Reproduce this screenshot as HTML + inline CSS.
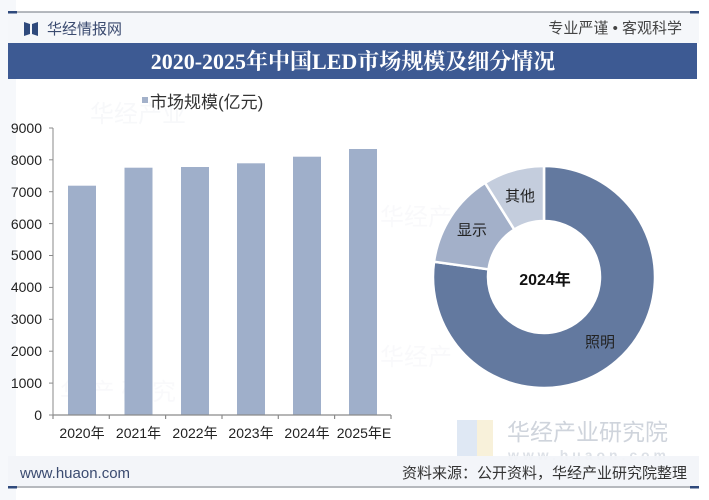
<!DOCTYPE html>
<html><head><meta charset="utf-8"><style>
html,body{margin:0;padding:0;background:#fff;}
svg{display:block;}
text{font-family:"Liberation Sans","Noto Sans CJK SC",sans-serif;}
</style></head><body>
<svg width="709" height="500" viewBox="0 0 709 500" xmlns="http://www.w3.org/2000/svg">
<rect width="709" height="500" fill="#ffffff"/>
<rect x="0" y="0" width="16" height="500" fill="#f6f8fb"/>
<!-- header -->
<rect x="8" y="12" width="691" height="31" fill="#f5f7fa"/>
<line x1="8" y1="12" x2="699" y2="12" stroke="#8a8f98" stroke-width="1.2"/>
<rect x="8" y="11" width="9" height="2.5" fill="#2f4a7c"/>
<rect x="690" y="11" width="9" height="2.5" fill="#2f4a7c"/>
<path d="M24 22 L30 24 L30 34 L24 36 Z" fill="#2f4a7c"/>
<path d="M38 22 L32 24 L32 34 L38 36 Z" fill="#2f4a7c"/>
<text x="47" y="34" font-size="15" fill="#3b4b70">华经情报网</text>
<text x="682" y="33" font-size="15" fill="#444" text-anchor="end">专业严谨 • 客观科学</text>
<!-- title band -->
<rect x="8" y="43" width="689" height="36" fill="#3d5a93"/>
<text x="353" y="69" font-size="22" font-weight="bold" fill="#ffffff" text-anchor="middle" style="font-family:'Liberation Serif','Noto Serif CJK SC',serif;">2020-2025年中国LED市场规模及细分情况</text>
<!-- watermarks -->
<g opacity="0.3">
<text x="90" y="122" font-size="24" fill="#e6e9ef">华经产业</text>
<text x="380" y="225" font-size="24" fill="#eceef3">华经产</text>
<text x="380" y="365" font-size="24" fill="#eceef3">华经产</text>
<text x="60" y="400" font-size="24" fill="#eceef3">华 产 研 究</text>
</g>
<!-- legend -->
<rect x="142" y="97" width="6" height="6" fill="#a3b1ca"/>
<text x="150" y="108" font-size="17" fill="#333">市场规模(亿元)</text>
<!-- y axis -->
<g font-size="14" fill="#222" text-anchor="end">
<text x="42" y="420">0</text>
<text x="42" y="388">1000</text>
<text x="42" y="356">2000</text>
<text x="42" y="324">3000</text>
<text x="42" y="292">4000</text>
<text x="42" y="260">5000</text>
<text x="42" y="229">6000</text>
<text x="42" y="197">7000</text>
<text x="42" y="165">8000</text>
<text x="42" y="133">9000</text>
</g>
<g stroke="#8a8a8a" stroke-width="1">
<line x1="53" y1="128" x2="53" y2="415"/>
<line x1="49" y1="415" x2="53" y2="415"/>
<line x1="49" y1="383.1" x2="53" y2="383.1"/>
<line x1="49" y1="351.2" x2="53" y2="351.2"/>
<line x1="49" y1="319.3" x2="53" y2="319.3"/>
<line x1="49" y1="287.4" x2="53" y2="287.4"/>
<line x1="49" y1="255.5" x2="53" y2="255.5"/>
<line x1="49" y1="223.6" x2="53" y2="223.6"/>
<line x1="49" y1="191.7" x2="53" y2="191.7"/>
<line x1="49" y1="159.8" x2="53" y2="159.8"/>
<line x1="49" y1="128" x2="53" y2="128"/>
</g>
<!-- bars -->
<g fill="#9fafca">
<rect x="68" y="185.7" width="28" height="229.3"/>
<rect x="124.5" y="167.7" width="28" height="247.3"/>
<rect x="181" y="167" width="28" height="248"/>
<rect x="237" y="163.3" width="28" height="251.7"/>
<rect x="293" y="156.7" width="28" height="258.3"/>
<rect x="349" y="149" width="28" height="266"/>
</g>
<g stroke="#8a8a8a" stroke-width="1.2">
<line x1="53" y1="415" x2="391" y2="415"/>
<line x1="53" y1="415" x2="53" y2="419"/>
<line x1="109.3" y1="415" x2="109.3" y2="419"/>
<line x1="165.6" y1="415" x2="165.6" y2="419"/>
<line x1="222" y1="415" x2="222" y2="419"/>
<line x1="278.3" y1="415" x2="278.3" y2="419"/>
<line x1="334.6" y1="415" x2="334.6" y2="419"/>
<line x1="391" y1="415" x2="391" y2="419"/>
</g>
<g font-size="14" fill="#222" text-anchor="middle">
<text x="82" y="438">2020年</text>
<text x="138.5" y="438">2021年</text>
<text x="195" y="438">2022年</text>
<text x="251" y="438">2023年</text>
<text x="307" y="438">2024年</text>
<text x="364" y="438">2025年E</text>
</g>
<!-- donut -->
<g stroke="#ffffff" stroke-width="2.5" stroke-linejoin="miter">
<path d="M544 166 A111 111 0 1 1 434.05 261.74 L488.53 269.32 A56 56 0 1 0 544 221 Z" fill="#63799f"/>
<path d="M434.05 261.74 A111 111 0 0 1 485.08 182.87 L514.27 229.51 A56 56 0 0 0 488.53 269.32 Z" fill="#a3b0c9"/>
<path d="M485.08 182.87 A111 111 0 0 1 544 166 L544 221 A56 56 0 0 0 514.27 229.51 Z" fill="#c4cddd"/>
</g>
<text x="520" y="201" font-size="15" fill="#222" text-anchor="middle">其他</text>
<text x="472" y="235" font-size="15" fill="#222" text-anchor="middle">显示</text>
<text x="600" y="347" font-size="15" fill="#222" text-anchor="middle">照明</text>
<text x="545" y="285" font-size="16" font-weight="bold" fill="#111" text-anchor="middle">2024年</text>
<!-- right watermark -->
<rect x="457" y="420" width="20" height="36" fill="#dfe8f4"/>
<rect x="477" y="420" width="16" height="36" fill="#f8f1da"/>
<text x="507" y="440" font-size="23" fill="#cfd4dc" textLength="161">华经产业研究院</text>
<text x="508" y="460" font-size="14" font-weight="bold" fill="#dde1e7" textLength="158">www.huaon.com</text>
<!-- footer -->
<rect x="8" y="456" width="691" height="30" fill="#f2f4f8" opacity="0.92"/>
<text x="20" y="478" font-size="15" fill="#3b4b70">www.huaon.com</text>
<text x="687" y="478" font-size="15" fill="#333" text-anchor="end">资料来源：公开资料，华经产业研究院整理</text>
<line x1="8" y1="487" x2="699" y2="487" stroke="#8a8f98" stroke-width="1.2"/>
<rect x="8" y="486" width="9" height="2.5" fill="#2f4a7c"/>
<rect x="690" y="486" width="9" height="2.5" fill="#2f4a7c"/>
</svg>
</body></html>
